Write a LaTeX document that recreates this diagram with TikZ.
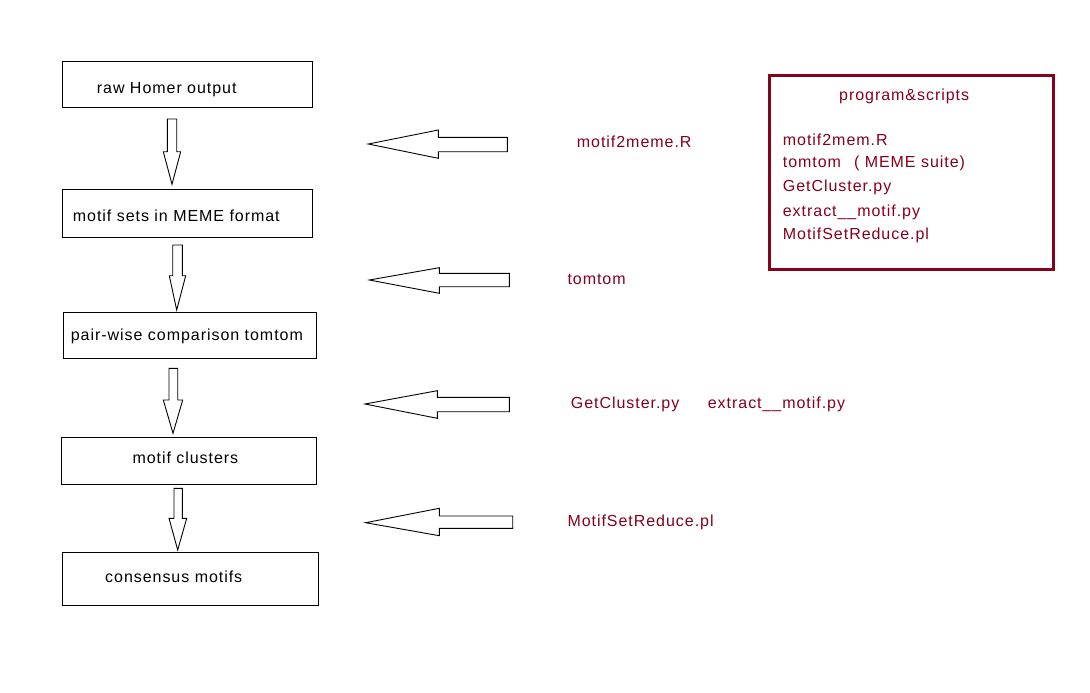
\documentclass[tikz,border=0pt]{standalone}
\usepackage{fontspec}
\setmainfont{Liberation Sans}[LetterSpace=6]
\definecolor{maroonred}{RGB}{135,0,28}
\begin{document}
\begin{tikzpicture}[x=1pt,y=-1pt,
  box/.style={draw=black,line width=1pt,inner sep=0pt,minimum width=#1},
  lbl/.style={anchor=base west,inner sep=0pt,font=\fontsize{16}{19}\selectfont},
  rlbl/.style={lbl,text=maroonred},
  blockarrow/.style={draw=black,line width=0.9pt,fill=white,line join=miter}]
\useasboundingbox (0,0) rectangle (1090,693);
% flow boxes
\node[box=250pt,minimum height=45pt] (b1) at (187,84.5) {};
\node[box=250pt,minimum height=48pt] (b2) at (187,213) {};
\node[box=253pt,minimum height=46pt] (b3) at (189.5,335) {};
\node[box=255pt,minimum height=47pt] (b4) at (188.5,460.5) {};
\node[box=256pt,minimum height=53pt] (b5) at (190,578.5) {};
\node[lbl] (t1) at (96.7,93) {raw Homer output};
\node[lbl] (t2) at (72.7,221) {motif sets in MEME format};
\node[lbl] (t3) at (70.7,340.7) {pair-wise comparison tomtom};
\node[lbl] (t4) at (132.3,463.3) {motif clusters};
\node[lbl] (t5) at (105,582.7) {consensus motifs};
% down block arrows
\draw[blockarrow] (167.3,119) -- (176.7,119) -- (176.7,151.7) -- (180.7,151.7) -- (172,184.3) -- (163.3,151.7) -- (167.3,151.7) -- cycle;
\draw[blockarrow] (172.7,245) -- (182.3,245) -- (182.3,275.7) -- (185.7,275.7) -- (176.7,310) -- (169.3,275.7) -- (172.7,275.7) -- cycle;
\draw[blockarrow] (169,368.3) -- (177.7,368.3) -- (177.7,400) -- (182.7,400) -- (173,433.3) -- (163.3,400) -- (169,400) -- cycle;
\draw[blockarrow] (174,488.3) -- (182.3,488.3) -- (182.3,518.3) -- (186.7,518.3) -- (177.7,550) -- (169,518.3) -- (174,518.3) -- cycle;
% left block arrows
\draw[blockarrow] (507.3,137.3) -- (438.3,137.3) -- (438.3,130) -- (368.3,144) -- (438.3,158.3) -- (438.3,151.7) -- (507.3,151.7) -- cycle;
\draw[blockarrow] (509.3,273.3) -- (439.3,273.3) -- (439.3,267.7) -- (369.3,280) -- (439.3,293.3) -- (439.3,286.7) -- (509.3,286.7) -- cycle;
\draw[blockarrow] (509.3,397.3) -- (437.3,397.3) -- (437.3,390.7) -- (365,404) -- (437.3,418.3) -- (437.3,411.7) -- (509.3,411.7) -- cycle;
\draw[blockarrow] (512.7,516) -- (439.3,516) -- (439.3,508.3) -- (365.7,522.7) -- (439.3,535.7) -- (439.3,528.3) -- (512.7,528.3) -- cycle;
% step labels
\node[rlbl] (s1) at (576.7,147) {motif2meme.R};
\node[rlbl] (s2) at (567.3,284) {tomtom};
\node[rlbl] (s3) at (570.7,408) {GetCluster.py};
\node[rlbl] (s4) at (707.7,408) {extract\_\_motif.py};
\node[rlbl] (s5) at (567.3,526) {MotifSetReduce.pl};
% program box
\node[draw=maroonred,line width=3pt,minimum width=284pt,minimum height=193pt,inner sep=0pt] (pb) at (911,172.5) {};
\node[rlbl] (p0) at (839,100.7) {program\&scripts};
\node[rlbl] (p1) at (782.7,145) {motif2mem.R};
\node[rlbl] (p2) at (782.7,167.3) {tomtom\hspace{13pt}( MEME suite)};
\node[rlbl] (p3) at (782.7,191.7) {GetCluster.py};
\node[rlbl] (p4) at (782.7,216) {extract\_\_motif.py};
\node[rlbl] (p5) at (782.7,239.3) {MotifSetReduce.pl};
\end{tikzpicture}
\end{document}
